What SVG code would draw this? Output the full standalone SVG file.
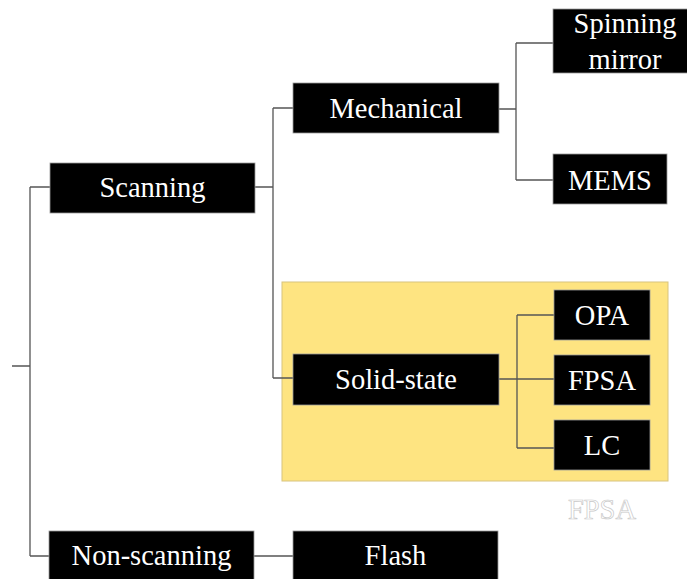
<svg xmlns="http://www.w3.org/2000/svg" width="687" height="579" viewBox="0 0 687 579">
<style>
.box{fill:#000;stroke:#999;stroke-width:0.8}
.lbl{font-size:28.5px;fill:#fff;text-anchor:middle}
.ln{fill:none;stroke:#555;stroke-width:1.3}
</style>
<rect id="solid-state-region" x="282" y="282" width="386" height="199" fill="#FEE481" stroke="#d8c47e" stroke-width="1"/>
<g id="connectors">
<path class="ln" d="M12,366 H30 M30,187 V556 M30,187 H50 M30,556 H49"/>
<path class="ln" d="M255,187 H273 M273,108 V378 M273,108 H293 M273,378 H293"/>
<path class="ln" d="M499,109 H516 M516,43 V180 M516,43 H553 M516,180 H553"/>
<path class="ln" d="M499,379 H554 M517,315 V448 M517,315 H554 M517,448 H554"/>
<path class="ln" d="M254,556 H293"/>
</g>
<g font-family="Liberation Serif, DejaVu Serif, serif">
<g id="scanning"><rect class="box" x="50" y="163" width="205" height="50"/><text class="lbl" x="152.5" y="197">Scanning</text></g>
<g id="non-scanning"><rect class="box" x="49" y="531" width="205" height="50"/><text class="lbl" x="151.5" y="565">Non-scanning</text></g>
<g id="mechanical"><rect class="box" x="293" y="83" width="206" height="50"/><text class="lbl" x="396" y="118">Mechanical</text></g>
<g id="solid-state"><rect class="box" x="293" y="354" width="206" height="51"/><text class="lbl" x="396" y="389">Solid-state</text></g>
<g id="flash"><rect class="box" x="293" y="531" width="205" height="50"/><text class="lbl" x="395.5" y="565">Flash</text></g>
<g id="spinning-mirror"><rect class="box" x="553" y="9" width="136" height="64"/><text class="lbl" x="625" y="33">Spinning</text><text class="lbl" x="625" y="69">mirror</text></g>
<g id="mems"><rect class="box" x="553" y="154" width="114" height="50"/><text class="lbl" x="610" y="190">MEMS</text></g>
<g id="opa"><rect class="box" x="554" y="290" width="96" height="50"/><text class="lbl" x="602" y="325">OPA</text></g>
<g id="fpsa"><rect class="box" x="554" y="355" width="96" height="50"/><text class="lbl" x="602" y="390">FPSA</text></g>
<g id="lc"><rect class="box" x="554" y="420" width="96" height="50"/><text class="lbl" x="602" y="455">LC</text></g>
<text x="602" y="519" font-size="28.5" text-anchor="middle" fill="#fff" stroke="#c8c8c8" stroke-width="0.7">FPSA</text>
</g>
</svg>
